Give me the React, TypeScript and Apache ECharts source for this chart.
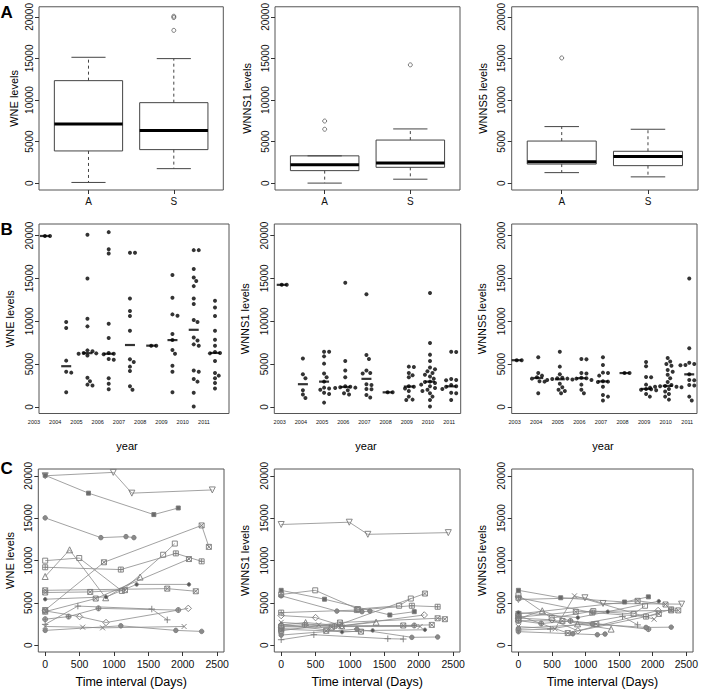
import React, { useEffect, useRef } from 'react';
import * as echarts from 'echarts';

const FONT = '"Liberation Sans", Arial, Helvetica, sans-serif';

const markerNames = ['WNE levels', 'WNNS1 levels', 'WNNS5 levels'];
const groupLabels = ['A', 'S'];
const years = ['2003', '2004', '2005', '2006', '2007', '2008', '2009', '2010', '2011'];
const levelTicks = [0, 5000, 10000, 15000, 20000];
const dayTicks = [0, 500, 1000, 1500, 2000, 2500];

// Panel A: box statistics [low whisker, Q1, median, Q3, high whisker] for groups A and S
const boxWNE = [[80, 3870, 7115, 12330, 15140], [1740, 4030, 6320, 9680, 14980]];
const boxWNNS1 = [[0, 1500, 2210, 3280, 3280], [470, 1900, 2410, 5180, 6520]];
const boxWNNS5 = [[1260, 2290, 2570, 5060, 6800], [750, 2100, 3200, 3830, 6480]];
const outWNE = [[], [20080, 19920, 18380]];
const outWNNS1 = [[6480, 7470], [14230]];
const outWNNS5 = [[15060], []];

// Panel B: values per year (2003..2011)
const wneByYear = [
  [19950, 19950],
  [9900, 9200, 5400, 4100, 4000, 1700],
  [20100, 15000, 10300, 9400, 6600, 6500, 6300, 6250, 6200, 6000, 3400, 3000, 2600, 2500],
  [20400, 18400, 17900, 9700, 8050, 6300, 6200, 6150, 5600, 5500, 3350, 2700, 2050],
  [18000, 18000, 12650, 11200, 10600, 8900, 5550, 5250, 4700, 4200, 2400, 2000],
  [7150, 7150],
  [15400, 12750, 10800, 10650, 8500, 7800, 6650, 6200, 4800, 4100, 1700],
  [18300, 18300, 16100, 15100, 14700, 14100, 12650, 12000, 10150, 9900, 8100, 7750, 7300, 7150, 4250, 4100, 3250, 2950, 1650, 50],
  [12400, 11600, 10600, 8900, 7850, 7150, 6400, 6300, 6250, 5350, 3950, 3650, 3350, 2800, 2150],
];
const wnns1ByYear = [
  [14250, 14250],
  [5650, 3800, 3350, 1950, 1450, 1050],
  [6450, 6450, 5900, 5050, 3900, 3450, 2950, 2250, 2150, 2000, 1650, 1500, 500],
  [14500, 5350, 4250, 3450, 2400, 2350, 2300, 2250, 2200, 1950, 1600, 1450],
  [13150, 6050, 5600, 4250, 3950, 3900, 2650, 2550, 2100, 2050, 1400, 1100],
  [1700, 1700],
  [4700, 4650, 3950, 3700, 3450, 2400, 2350, 2150, 1850, 1200, 850, 800],
  [13300, 7450, 6100, 5350, 4600, 4400, 4150, 3950, 3750, 3550, 3300, 2950, 2900, 2800, 2600, 2400, 2200, 2000, 1850, 1600, 1200, 800, 50],
  [6450, 6400, 3250, 3150, 3100, 2550, 2400, 2350, 2200, 2100, 1650, 1600, 800],
];
const wnns5ByYear = [
  [5450, 5450],
  [5800, 3950, 3650, 3450, 3300, 3000, 2950, 1600],
  [6450, 4700, 3800, 3400, 3350, 3300, 3250, 3200, 3150, 2700, 2300, 2000, 1850, 1600],
  [5600, 5550, 3950, 3900, 3400, 3350, 3300, 3150, 2600, 2000, 1600],
  [5800, 4900, 4000, 3950, 3650, 3000, 2950, 2900, 2350, 1400, 1200, 750],
  [3950, 3950],
  [5250, 4750, 3500, 3450, 2600, 2100, 2050, 2000, 1950, 1500, 1200],
  [5700, 5300, 5000, 4800, 4300, 4100, 3750, 3350, 2900, 2550, 2450, 2400, 2350, 2350, 2300, 2250, 2100, 1800, 1500, 1200, 850],
  [15000, 6850, 5150, 5000, 4900, 4850, 3800, 3150, 3100, 2550, 2500, 1200, 750],
];

// Panel C: follow-up days per patient and levels at those days
const patientDays = [
  [0, 990, 1260, 2430],
  [0, 630, 1580, 1935],
  [0, 810, 1175, 1290],
  [0, 355, 880, 1380],
  [0, 495, 1115, 1715, 1885],
  [0, 1100, 1900, 2275],
  [0, 855, 2275, 2380],
  [0, 735, 2090],
  [0, 1775, 2190],
  [0, 885, 1330, 2090],
  [0, 655, 1160],
  [0, 475, 1550, 1775],
  [0, 340, 775, 1935],
  [0, 500, 885, 2080],
  [0, 545, 835, 2020],
  [0, 1100, 1900, 2275],
];
const patientSymbols = ['tridown', 'sqfill', 'circfill', 'tri', 'square', 'sqplus', 'sqx', 'sqx', 'sqx', 'dotfill', 'sqx', 'plus', 'circplus', 'diamond', 'cross', 'circfill'];
const wnePatients = [
  [20000, 20400, 17950, 18330],
  [20050, 17950, 15420, 16200],
  [15030, 12700, 12820, 12700],
  [8110, 11260, 5600, 8040],
  [9980, 10290, 6410, 10680, 12000],
  [9200, 8930, 10840, 9900],
  [4150, 9790, 14140, 11610],
  [3960, 5510, 10170],
  [6480, 6680, 6370],
  [5430, 5700, 7180, 7180],
  [6220, 6290, 6500],
  [2460, 4620, 4270, 2990],
  [3070, 3380, 4350, 4150],
  [4050, 3380, 2680, 4350],
  [2210, 2130, 2050, 2210],
  [1750, 2290, 1750, 1630],
];
const wnns1Patients = [
  [14250, 14520, 13090, 13290],
  [6480, 5430, 3570, 3960],
  [5830, 4030, 3960, 4030],
  [2400, 2680, 2290, 2720],
  [5990, 6480, 4270, 4660, 5510],
  [3850, 4150, 4660, 4540],
  [1700, 2680, 3180, 3070],
  [2000, 2100, 6100],
  [2200, 2330, 2400],
  [2500, 1550, 1750, 1820],
  [1900, 1700, 1600],
  [650, 1240, 770, 730],
  [2300, 2400, 2250, 2330],
  [3500, 3260, 2290, 3570],
  [2700, 2400, 2200, 2210],
  [1200, 1900, 930, 970],
];
const wnns5Patients = [
  [5400, 5600, 4930, 4850],
  [6480, 5600, 5100, 5710],
  [1600, 1350, 1240, 1320],
  [3150, 4070, 2520, 1900],
  [5900, 3200, 4030, 3690, 4660],
  [5600, 3850, 3380, 4230],
  [3300, 3960, 4110, 4110],
  [3500, 1430, 3700],
  [3700, 5240, 4810],
  [3850, 3260, 3960, 5200],
  [2900, 2870, 2500],
  [1800, 1900, 3400, 2400],
  [2900, 2560, 2870, 1900],
  [3200, 3000, 1700, 4100],
  [2200, 1940, 5830, 3070],
  [2000, 2500, 2100, 2130],
];

// ---- layout (styles / positions) ----
const GRIDS = [
  [39, 4, 184.3, 186], [275, 4, 185, 186], [511.7, 4, 186.3, 186],
  [39, 224, 190, 189.5], [274.3, 224, 186.4, 189.5], [511.7, 224, 185.3, 189.5],
  [38.3, 469, 185.7, 185], [274.3, 469, 185.7, 185], [511.7, 469, 185.6, 185],
];
const ROW_Y = [[-830, 21220], [-770, 21350], [-800, 20800]];
const B_X = [[-0.28, 8.66], [-0.35, 8.45], [-0.23, 8.36]];
const NAME_GAP = [20, 22.8, 23.5, 23.5, 24, 24.5, 23, 23.5, 24.5];
const GRAY = '#7a7a7a';

function circlePath(n: number) {
  let d = '';
  for (let i = 0; i <= n; i++) {
    const a = (i / n) * Math.PI * 2;
    d += (i === 0 ? 'M' : 'L') + (5 + 5 * Math.cos(a)).toFixed(3) + ',' + (5 + 5 * Math.sin(a)).toFixed(3);
  }
  return d + 'Z';
}

const SYMBOLS: Record<string, any> = {
  tridown: { symbol: 'triangle', rotate: 180, fill: 'transparent', size: 6 },
  tri: { symbol: 'triangle', rotate: 0, fill: 'transparent', size: 6 },
  sqfill: { symbol: 'rect', fill: '#6a6a6a', size: 4 },
  circfill: { symbol: 'circle', fill: '#8a8a8a', size: 4.5 },
  square: { symbol: 'rect', fill: 'transparent', size: 5 },
  sqplus: { symbol: 'path://M0,0L10,0L10,10L0,10ZM5,0L5,10M0,5L10,5', fill: 'transparent', size: 5 },
  sqx: { symbol: 'path://M0,0L10,0L10,10L0,10ZM0,0L10,10M10,0L0,10', fill: 'transparent', size: 5 },
  dotfill: { symbol: 'circle', fill: '#555', size: 3.5 },
  plus: { symbol: 'path://M5,0L5,10M0,5L10,5', fill: 'transparent', size: 6.5 },
  circplus: { symbol: 'path://' + circlePath(16) + 'M5,0L5,10M0,5L10,5', fill: '#aaa', size: 5 },
  diamond: { symbol: 'diamond', fill: 'transparent', size: 6.5 },
  cross: { symbol: 'path://M0,0L10,10M10,0L0,10', fill: 'transparent', size: 5 },
};

function median(a: number[]) {
  const s = [...a].sort((x, y) => x - y);
  const m = Math.floor(s.length / 2);
  return s.length % 2 ? s[m] : (s[m - 1] + s[m]) / 2;
}

// simple beeswarm layout: spreads overlapping dots sideways
function swarm(vals: number[], center: number, pxX: number, pxY: number, d: number) {
  const order = vals.map((_, i) => i).sort((a, b) => vals[b] - vals[a]);
  const placed: { x: number; y: number }[] = [];
  const out: number[][] = [];
  for (const i of order) {
    const y = vals[i] * pxY;
    let chosen = 0;
    for (let k = 0; k < 60; k++) {
      const off = (k % 2 === 1 ? 1 : -1) * Math.ceil(k / 2) * d * 0.3;
      if (placed.every((p) => Math.hypot(p.x - off, p.y - y) >= d)) {
        chosen = off;
        break;
      }
    }
    placed.push({ x: chosen, y });
    out.push([center + chosen / pxX, vals[i]]);
  }
  return out;
}

const renderBox = (_params: any, api: any) => {
  const x = api.value(0);
  const lo = api.value(1), q1 = api.value(2), md = api.value(3), q3 = api.value(4), hi = api.value(5);
  const X = (u: number) => api.coord([u, md])[0];
  const Y = (v: number) => api.coord([x, v])[1];
  const cx = X(x), xl = X(x - 0.4), xr = X(x + 0.4), cl = X(x - 0.2), cr = X(x + 0.2);
  const stroke = '#444';
  return {
    type: 'group',
    children: [
      { type: 'line', shape: { x1: cx, y1: Y(q3), x2: cx, y2: Y(hi) }, style: { stroke, lineWidth: 1, lineDash: [3, 3] } },
      { type: 'line', shape: { x1: cx, y1: Y(q1), x2: cx, y2: Y(lo) }, style: { stroke, lineWidth: 1, lineDash: [3, 3] } },
      { type: 'line', shape: { x1: cl, y1: Y(hi), x2: cr, y2: Y(hi) }, style: { stroke, lineWidth: 1 } },
      { type: 'line', shape: { x1: cl, y1: Y(lo), x2: cr, y2: Y(lo) }, style: { stroke, lineWidth: 1 } },
      { type: 'rect', shape: { x: xl, y: Y(q3), width: xr - xl, height: Y(q1) - Y(q3) }, style: { fill: 'none', stroke, lineWidth: 1 } },
      { type: 'line', shape: { x1: xl, y1: Y(md), x2: xr, y2: Y(md) }, style: { stroke: '#000', lineWidth: 3 } },
    ],
  };
};

function buildOption() {
  const boxes = [boxWNE, boxWNNS1, boxWNNS5];
  const outs = [outWNE, outWNNS1, outWNNS5];
  const byYear = [wneByYear, wnns1ByYear, wnns5ByYear];
  const patients = [wnePatients, wnns1Patients, wnns5Patients];

  const grid = GRIDS.map(([l, t, w, h]) => ({
    left: l, top: t, width: w, height: h, show: true, borderColor: '#555', borderWidth: 1, backgroundColor: 'transparent',
  }));

  const yAxis = GRIDS.map((_, gi) => {
    const row = Math.floor(gi / 3);
    return {
      type: 'value', gridIndex: gi, min: ROW_Y[row][0], max: ROW_Y[row][1],
      name: markerNames[gi % 3], nameLocation: 'middle', nameGap: NAME_GAP[gi],
      nameTextStyle: { fontFamily: FONT, fontSize: 11, color: '#000' },
      axisLine: { show: false, onZero: false }, splitLine: { show: false },
      axisTick: { show: true, length: 4, lineStyle: { color: '#333', width: 1 }, customValues: levelTicks },
      axisLabel: {
        rotate: 90, fontSize: 10, color: '#111', margin: 5, fontFamily: FONT, customValues: levelTicks,
        formatter: (v: number) => String(Math.round(v)),
      },
    };
  });

  const xAxis: any[] = [];
  for (let c = 0; c < 3; c++) {
    xAxis.push({
      type: 'value', gridIndex: c, min: 0.42, max: 2.58,
      axisLine: { show: false, onZero: false }, splitLine: { show: false },
      axisTick: { show: true, length: 4, lineStyle: { color: '#333' }, customValues: [1, 2] },
      axisLabel: { customValues: [1, 2], formatter: (v: number) => groupLabels[Math.round(v) - 1], fontSize: 10, color: '#111', margin: 6, fontFamily: FONT },
    });
  }
  for (let c = 0; c < 3; c++) {
    xAxis.push({
      type: 'value', gridIndex: 3 + c, min: B_X[c][0], max: B_X[c][1],
      axisLine: { show: false, onZero: false }, splitLine: { show: false },
      axisTick: { show: false },
      axisLabel: {
        customValues: years.map((_, i) => i), formatter: (v: number) => years[Math.round(v)],
        fontSize: 5.5, color: '#111', margin: 5, fontFamily: FONT,
        padding: c === 0 ? [0, 22, 0, 0] : [0, 4, 0, 0],
      },
    });
  }
  for (let c = 0; c < 3; c++) {
    xAxis.push({
      type: 'value', gridIndex: 6 + c, min: -100, max: 2600,
      name: 'Time interval (Days)', nameLocation: 'middle', nameGap: 23,
      nameTextStyle: { fontFamily: FONT, fontSize: 12.5, color: '#000' },
      axisLine: { show: false, onZero: false }, splitLine: { show: false },
      axisTick: { show: true, length: 4, lineStyle: { color: '#333' }, customValues: dayTicks },
      axisLabel: { customValues: dayTicks, fontSize: 10.5, color: '#111', margin: 6, fontFamily: FONT, formatter: (v: number) => String(Math.round(v)) },
    });
  }

  const series: any[] = [];
  for (let c = 0; c < 3; c++) {
    series.push({
      type: 'custom', xAxisIndex: c, yAxisIndex: c, renderItem: renderBox,
      encode: { x: 0, y: [1, 2, 3, 4, 5] },
      data: boxes[c].map((b, i) => [i + 1, ...b]),
    });
    series.push({
      type: 'scatter', xAxisIndex: c, yAxisIndex: c, symbol: 'circle', symbolSize: 4,
      itemStyle: { color: 'transparent', borderColor: '#333', borderWidth: 0.8 },
      data: outs[c].flatMap((arr, i) => arr.map((v) => [i + 1, v])),
    });
  }
  for (let c = 0; c < 3; c++) {
    const gi = 3 + c;
    const [, , w, h] = GRIDS[gi];
    const pxX = w / (B_X[c][1] - B_X[c][0]);
    const pxY = h / (ROW_Y[1][1] - ROW_Y[1][0]);
    const pts = byYear[c].flatMap((vals, i) => swarm(vals, i, pxX, pxY, 4.2));
    series.push({
      type: 'scatter', xAxisIndex: gi, yAxisIndex: gi, symbol: 'circle', symbolSize: 4,
      itemStyle: { color: '#000' }, data: pts,
    });
    series.push({
      type: 'scatter', xAxisIndex: gi, yAxisIndex: gi, symbol: 'rect', symbolSize: [10, 2.2],
      itemStyle: { color: '#000' }, data: byYear[c].map((vals, i) => [i, median(vals)]),
    });
  }
  for (let c = 0; c < 3; c++) {
    const gi = 6 + c;
    patients[c].forEach((vals, p) => {
      const s = SYMBOLS[patientSymbols[p]];
      series.push({
        type: 'line', xAxisIndex: gi, yAxisIndex: gi,
        data: patientDays[p].map((d, i) => [d, vals[i]]),
        symbol: s.symbol, symbolSize: s.size, symbolRotate: s.rotate || 0, showSymbol: true,
        lineStyle: { color: '#8a8a8a', width: 0.8 },
        itemStyle: { color: s.fill, borderColor: GRAY, borderWidth: 0.9 },
        z: 2,
      });
    });
  }

  const graphic: any[] = [
    { type: 'text', x: 0.5, y: 12, style: { text: 'A', font: 'bold 17px ' + FONT, fill: '#000', textVerticalAlign: 'middle' } },
    { type: 'text', x: 0.5, y: 229.5, style: { text: 'B', font: 'bold 17px ' + FONT, fill: '#000', textVerticalAlign: 'middle' } },
    { type: 'text', x: 0.5, y: 468, style: { text: 'C', font: 'bold 17px ' + FONT, fill: '#000', textVerticalAlign: 'middle' } },
    { type: 'text', x: 127, y: 446, style: { text: 'year', font: '11px ' + FONT, fill: '#000', textAlign: 'center', textVerticalAlign: 'middle' } },
    { type: 'text', x: 366, y: 446, style: { text: 'year', font: '11px ' + FONT, fill: '#000', textAlign: 'center', textVerticalAlign: 'middle' } },
    { type: 'text', x: 603, y: 446, style: { text: 'year', font: '11px ' + FONT, fill: '#000', textAlign: 'center', textVerticalAlign: 'middle' } },
  ];

  return { animation: false, backgroundColor: '#fff', textStyle: { fontFamily: FONT }, grid, xAxis, yAxis, series, graphic };
}

export default function App() {
  const ref = useRef<HTMLDivElement>(null);
  useEffect(() => {
    if (!ref.current) return;
    const chart = echarts.init(ref.current, undefined, { renderer: 'svg' });
    chart.setOption(buildOption() as any);
    return () => chart.dispose();
  }, []);
  return <div ref={ref} style={{ position: 'absolute', left: 0, top: 0, width: 701, height: 689, background: '#fff' }} />;
}
